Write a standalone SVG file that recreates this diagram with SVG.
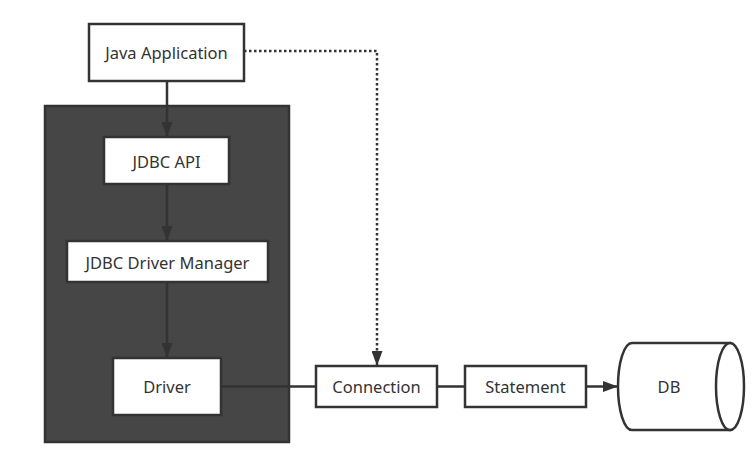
<svg xmlns="http://www.w3.org/2000/svg" width="756" height="463" viewBox="0 0 756 463">
<defs>
<style>
.box{fill:#fff;stroke:#333;stroke-width:2.5}
.ln{fill:none;stroke:#333;stroke-width:2.5}
.dot{fill:none;stroke:#333;stroke-width:2.5;stroke-dasharray:2.5 2.5}
text{font-family:"Noto Sans","Open Sans","Liberation Sans",sans-serif;font-size:16.5px;fill:#333;text-anchor:middle;dominant-baseline:central}
</style>
<marker id="ah" markerWidth="15" markerHeight="11" refX="14" refY="5.5" orient="auto" markerUnits="userSpaceOnUse">
<path d="M0,0 L15,5.5 L0,11 Z" fill="#333"/>
</marker>
</defs>
<rect width="756" height="463" fill="#fff"/>
<g id="container"><rect x="45" y="106" width="244" height="336" fill="#464646" stroke="#333" stroke-width="2.5"/></g>
<g id="connectors">
<line class="ln" x1="167" y1="81" x2="167" y2="136" marker-end="url(#ah)"/>
<line class="ln" x1="167" y1="184" x2="167" y2="240" marker-end="url(#ah)"/>
<line class="ln" x1="167" y1="282" x2="167" y2="357" marker-end="url(#ah)"/>
<line class="ln" x1="221" y1="386.5" x2="316" y2="386.5"/>
<line class="ln" x1="437" y1="386.5" x2="465" y2="386.5"/>
<line class="ln" x1="586" y1="386.5" x2="617" y2="386.5" marker-end="url(#ah)"/>
<path class="dot" d="M244,51 H377 V365" marker-end="url(#ah)"/>
</g>
<g id="java-app"><rect class="box" x="89" y="24" width="155" height="57"/><text x="166.5" y="52">Java Application</text></g>
<g id="jdbc-api"><rect class="box" x="104" y="137" width="125" height="47"/><text x="166.5" y="161">JDBC API</text></g>
<g id="driver-manager"><rect class="box" x="67" y="241" width="201" height="41"/><text x="167.5" y="262">JDBC Driver Manager</text></g>
<g id="driver"><rect class="box" x="113" y="358" width="108" height="57"/><text x="167" y="386.5">Driver</text></g>
<g id="connection"><rect class="box" x="316" y="366" width="121" height="41"/><text x="376.5" y="386.5">Connection</text></g>
<g id="statement"><rect class="box" x="465" y="366" width="121" height="41"/><text x="525.5" y="386.5">Statement</text></g>
<g id="db">
<path class="box" d="M632,343 H730 V430 H632 A14,43.5 0 0 1 632,343 Z"/>
<ellipse class="box" cx="730" cy="386.5" rx="14" ry="43.5"/>
<text x="669" y="386.5">DB</text>
</g>
</svg>
